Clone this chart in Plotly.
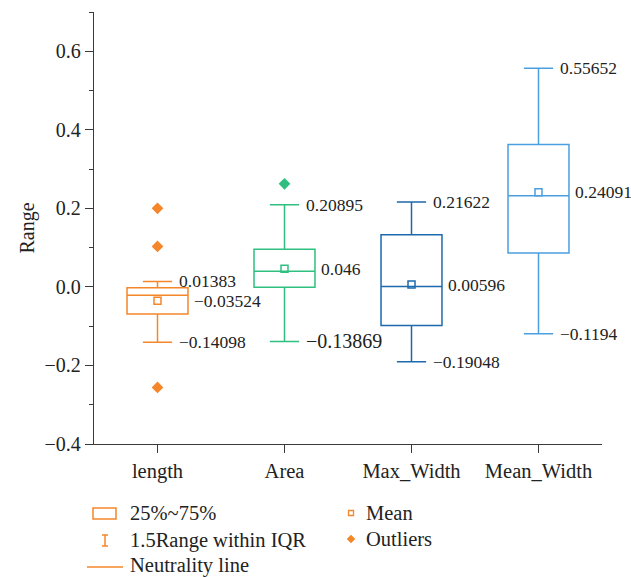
import plotly.graph_objects as go

# ---- data ----
categories = ["length", "Area", "Max_Width", "Mean_Width"]
q1 = [-0.069, -0.001, -0.098, 0.0864]
median = [-0.021, 0.040, 0.001, 0.232]
q3 = [-0.002, 0.0958, 0.133, 0.3626]
lower_whisker = [-0.14098, -0.13869, -0.19048, -0.1194]
upper_whisker = [0.01383, 0.20895, 0.21622, 0.55652]
means = [-0.03524, 0.046, 0.00596, 0.24091]
outlier_cats = ["length", "length", "length", "Area"]
outlier_vals = [0.200, 0.103, -0.256, 0.2625]

colors = ["#F5862A", "#2FBF80", "#1C6AAD", "#4B9FDF"]
label_font_sizes = [
    (17.5, 17.5, 17.5),  # upper, mean, lower
    (17.5, 17.5, 20),
    (17.5, 17.5, 17.5),
    (17.5, 17.5, 17.5),
]

legend_box_label = "25%~75%"
legend_whisker_label = "1.5Range within IQR"
legend_line_label = "Neutrality line"
legend_mean_label = "Mean"
legend_outlier_label = "Outliers"

FONT = "Liberation Serif, Times New Roman, serif"
W, H = 631, 577
ML, MR, MT, MB = 94, 29, 12, 133
PW, PH = W - ML - MR, H - MT - MB


def fmt(v):
    s = f"{abs(v):.5f}".rstrip("0")
    if s.endswith("."):
        s += "0"
    return ("\u2212" if v < 0 else "") + s


fig = go.Figure()

for i, cat in enumerate(categories):
    c = colors[i]
    fig.add_trace(go.Box(
        x=[cat], q1=[q1[i]], median=[median[i]], q3=[q3[i]],
        lowerfence=[lower_whisker[i]], upperfence=[upper_whisker[i]],
        line=dict(color=c, width=1.5), fillcolor="rgba(255,255,255,0)",
        width=0.48, whiskerwidth=0.48, boxpoints=False, showlegend=False,
        hoverinfo="skip",
    ))
    fig.add_trace(go.Scatter(
        x=[cat], y=[means[i]], mode="markers",
        marker=dict(symbol="square-open", size=7, color=c, line=dict(width=1.5)),
        showlegend=False, hoverinfo="skip",
    ))

oc = [colors[categories.index(c)] for c in outlier_cats]
fig.add_trace(go.Scatter(
    x=outlier_cats, y=outlier_vals, mode="markers",
    marker=dict(symbol="diamond", size=9, color=oc),
    showlegend=False, hoverinfo="skip",
))

# value labels
for i, cat in enumerate(categories):
    fu, fm, fl = label_font_sizes[i]
    for val, shift, fs in ((upper_whisker[i], 19, fu), (means[i], 34, fm), (lower_whisker[i], 19, fl)):
        fig.add_annotation(
            x=cat, y=val, text=fmt(val), showarrow=False,
            xanchor="left", yanchor="middle", xshift=shift,
            font=dict(family=FONT, size=fs, color="#222222"),
        )


def px(x):
    return (x - ML) / PW


def py(y):
    return (MT + PH - y) / PH


lc = colors[0]
shapes = [
    dict(type="rect", xref="paper", yref="paper", x0=px(93), x1=px(116), y0=py(508), y1=py(519),
         line=dict(color=lc, width=1.5)),
    dict(type="line", xref="paper", yref="paper", x0=px(105), x1=px(105), y0=py(535), y1=py(546),
         line=dict(color=lc, width=1.5)),
    dict(type="line", xref="paper", yref="paper", x0=px(102), x1=px(108), y0=py(535), y1=py(535),
         line=dict(color=lc, width=1.5)),
    dict(type="line", xref="paper", yref="paper", x0=px(102), x1=px(108), y0=py(546), y1=py(546),
         line=dict(color=lc, width=1.5)),
    dict(type="line", xref="paper", yref="paper", x0=px(87), x1=px(123), y0=py(567), y1=py(567),
         line=dict(color=lc, width=1.5)),
    dict(type="rect", xref="paper", yref="paper", x0=px(348.5), x1=px(353.5), y0=py(510.5), y1=py(515.5),
         line=dict(color=lc, width=1.3)),
    dict(type="path", xref="paper", yref="paper",
         path=f"M {px(351)},{py(535)} L {px(355)},{py(539)} L {px(351)},{py(543)} L {px(347)},{py(539)} Z",
         fillcolor=lc, line=dict(color=lc, width=0.5)),
]
for s in shapes:
    fig.add_shape(**s)

for text, x, y in ((legend_box_label, 130, 513), (legend_whisker_label, 130, 540),
                   (legend_line_label, 130, 565), (legend_mean_label, 366, 513),
                   (legend_outlier_label, 366, 539)):
    fig.add_annotation(
        xref="paper", yref="paper", x=px(x), y=py(y), text=text, showarrow=False,
        xanchor="left", yanchor="middle", xshift=-2,
        font=dict(family=FONT, size=20.5, color="#222222"),
    )

axis_color = "#3a3a3a"
fig.update_layout(
    width=W, height=H,
    margin=dict(l=ML, r=MR, t=MT, b=MB),
    plot_bgcolor="white", paper_bgcolor="white",
    font=dict(family=FONT, size=20, color="#222222"),
    showlegend=False,
    xaxis=dict(
        type="category", categoryorder="array", categoryarray=categories,
        range=[-0.5, 3.5], showline=True, linecolor=axis_color, linewidth=1.3,
        ticks="outside", ticklen=8, tickcolor=axis_color, tickwidth=1.3,
        showgrid=False, zeroline=False, tickfont=dict(family=FONT, size=20.5, color="#222222"),
    ),
    yaxis=dict(
        range=[-0.4, 0.7], tick0=-0.4, dtick=0.2, tickformat=".1f",
        showline=True, linecolor=axis_color, linewidth=1.3,
        ticks="outside", ticklen=8, tickcolor=axis_color, tickwidth=1.3,
        minor=dict(dtick=0.1, tick0=-0.4, ticks="outside", ticklen=4, tickcolor=axis_color, tickwidth=1.3),
        showgrid=False, zeroline=False,
        tickfont=dict(family=FONT, size=20, color="#222222"),
        title=dict(text="Range", standoff=4, font=dict(family=FONT, size=20, color="#222222")),
    ),
)

fig.write_html(
    "out.html",
    config={"displayModeBar": False},
    post_script="document.body.style.margin='0';document.body.style.overflow='hidden';",
)
